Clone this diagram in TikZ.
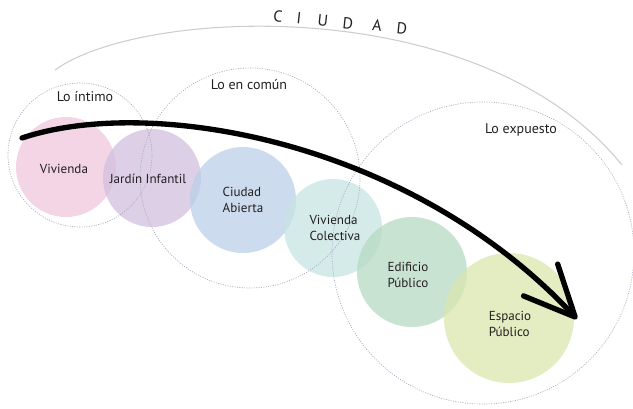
\documentclass[tikz,border=0pt]{standalone}
\usepackage{fontspec}
\setmainfont{PT Sans}
\usetikzlibrary{arrows.meta}

\definecolor{cpink}{RGB}{239,199,222}
\definecolor{clila}{RGB}{210,192,222}
\definecolor{cblue}{RGB}{187,208,232}
\definecolor{cteal}{RGB}{199,228,227}
\definecolor{cgreen}{RGB}{183,218,195}
\definecolor{clime}{RGB}{219,230,174}
\definecolor{cdots}{RGB}{170,170,192}
\definecolor{carc}{RGB}{205,205,205}
\definecolor{ctext}{RGB}{35,31,32}

\begin{document}
\begin{tikzpicture}[y=0.75pt, x=0.75pt, yscale=-1, inner sep=0pt, outer sep=0pt,
  ring/.style={draw=cdots, line width=0.5pt, dash pattern=on 0.8pt off 1pt},
  disc/.style={fill opacity=0.75},
  lbl/.style={text=ctext, font=\fontsize{9.8}{11.5}\selectfont, align=left},
  grp/.style={text=ctext, font=\fontsize{10.5}{12}\selectfont}]
\useasboundingbox (0,0) rectangle (633,408);

% ciudad
\path[draw=carc, line width=0.8pt] (55,70) .. controls (140,8) and (480,-10) .. (622,165);
\foreach \ch/\px/\py in {C/278/16, I/299/18, U/323/21, D/348/23, A/377/25, D/402/28}
  \path (\px,\py) node[rotate=-6, text=ctext, font=\fontsize{12}{12}\selectfont] (ciudad-\px) {\ch};

% discs
\path[fill=cpink, disc] (66,167) circle[radius=50];
\path[fill=clila, disc] (152,178) circle[radius=49];
\path[fill=cblue, disc] (243,200) circle[radius=53];
\path[fill=cteal, disc] (333,228) circle[radius=49];
\path[fill=cgreen, disc] (412,272) circle[radius=55];
\path[fill=clime, disc] (509,318) circle[radius=65];

% groups
\path[ring] (80,155) circle[radius=72];
\path[ring] (250,178) circle[radius=110];
\path[ring] (483,253) circle[radius=151];
\path (85,97) node[grp] (intimo) {Lo íntimo};
\path (249,85) node[grp] (comun) {Lo en común};
\path (521,130) node[grp] (expuesto) {Lo expuesto};

\path (64,169) node[lbl] (vivienda) {Vivienda};
\path (148,179) node[lbl] (jardin) {Jardín Infantil};
\path (243,200) node[lbl] (abierta) {Ciudad\\Abierta};
\path (335,228) node[lbl] (colectiva) {Vivienda\\Colectiva};
\path (408,275) node[lbl] (edificio) {Edificio\\Público};
\path (510,324) node[lbl] (espacio) {Espacio\\Público};

% arrow
\coordinate (arrowstart) at (22,138);
\coordinate (arrowtip) at (577,319);
\draw[line width=4pt, line cap=round, -{Straight Barb[length=38pt, width=35pt, round]}]
  (arrowstart) .. controls (150,95) and (410,140) .. (arrowtip);
\end{tikzpicture}
\end{document}
